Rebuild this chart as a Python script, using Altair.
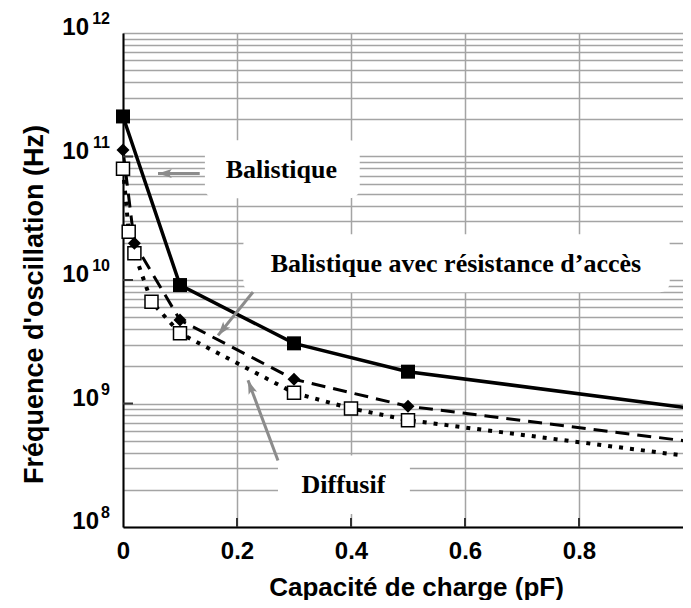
import math
import altair as alt
import pandas as pd

# ---- data ----
cap_bal = [0, 0.1, 0.3, 0.5, 1.0]
f_bal = [2.11e11, 9.1e9, 3.07e9, 1.81e9, 9.1e8]
cap_res = [0, 0.02, 0.1, 0.3, 0.5, 1.0]
f_res = [1.13e11, 1.98e10, 4.74e9, 1.57e9, 9.5e8, 4.89e8]
cap_dif = [0, 0.01, 0.02, 0.05, 0.1, 0.3, 0.4, 0.5, 1.0]
f_dif = [7.94e10, 2.46e10, 1.65e10, 6.67e9, 3.70e9, 1.22e9, 9.12e8, 7.33e8, 3.70e8]

x_ticks = [0, 0.2, 0.4, 0.6, 0.8, 1.0]
x_inner_ticks = [0.2, 0.4, 0.6, 0.8]
y_major = [1e8, 1e9, 1e10, 1e11, 1e12]
y_exp = ["8", "9", "10", "11", "12"]
y_grid = [k * 10 ** e for e in range(8, 12) for k in range(1, 10)] + [1e12]

labels = ["Balistique", "Balistique avec résistance d’accès", "Diffusif"]
label_x = [0.2779, 0.5842, 0.3868]
label_y = [7.75e10, 1.34e10, 2.17e8]
box_x1 = [0.1437, 0.2112, 0.2719]
box_x2 = [0.4153, 0.9591, 0.5033]
box_y1 = [1.357e11, 2.35e10, 3.79e8]
box_y2 = [4.59e10, 7.94e9, 1.277e8]
arrow_x_from = [0.1346, 0.2281, 0.2719]
arrow_y_from = [7.29e10, 7.99e9, 3.45e8]
arrow_x_to = [0.0614, 0.1667, 0.2193]
arrow_y_to = [7.29e10, 3.56e9, 1.54e9]

W, H = 570, 494
SANS = "Liberation Sans"
SERIF = "Liberation Serif"
GRID = "#a4a4a4"
ARROW = "#8c8c8c"

x_scale = alt.Scale(domain=[0, 1], nice=False, zero=False)
y_scale = alt.Scale(type="log", domain=[1e8, 1e12], nice=False)


def angle(x0, y0, x1, y1):
    px0, px1 = x0 * W, x1 * W
    py0 = (12 - math.log10(y0)) / 4 * H
    py1 = (12 - math.log10(y1)) / 4 * H
    return math.degrees(math.atan2(px1 - px0, -(py1 - py0))) % 360


bal = pd.DataFrame({"x": cap_bal, "y": f_bal})
res = pd.DataFrame({"x": cap_res, "y": f_res})
dif = pd.DataFrame({"x": cap_dif, "y": f_dif})
ann = pd.DataFrame({"label": labels, "x": label_x, "y": label_y,
                    "bx1": box_x1, "bx2": box_x2, "by1": box_y1, "by2": box_y2})
arr = pd.DataFrame({"x": arrow_x_from, "y": arrow_y_from,
                    "x2": arrow_x_to, "y2": arrow_y_to})
arr_head = pd.DataFrame({"x": arrow_x_to, "y": arrow_y_to,
                         "ang": [angle(a, b, c, d) for a, b, c, d in
                                 zip(arrow_x_from, arrow_y_from, arrow_x_to, arrow_y_to)]})
xt = pd.DataFrame({"x": x_inner_ticks})
yt = pd.DataFrame({"y": y_major[1:-1]})
ylab = pd.DataFrame({"y": y_major, "exp": y_exp})

X = lambda: alt.X("x:Q", scale=x_scale)
Y = lambda: alt.Y("y:Q", scale=y_scale)

# boxes carry the axes definitions
boxes = alt.Chart(ann).mark_rect(color="white", cornerRadius=10).encode(
    x=alt.X("bx1:Q", scale=x_scale, axis=alt.Axis(
        values=x_ticks, format=".1~f", grid=True, gridColor=GRID, gridWidth=1.5,
        ticks=False, domainColor="black", domainWidth=2,
        labelFont=SANS, labelFontWeight="bold", labelFontSize=24, labelColor="black",
        labelPadding=12, labelFlush=False,
        title="Capacité de charge (pF)", titleFont=SANS, titleFontWeight="bold",
        titleFontSize=26, titleColor="black", titleBaseline="alphabetic",
        titleAlign="center", titleX=293, titleY=68)),
    x2="bx2:Q",
    y=alt.Y("by1:Q", scale=y_scale, axis=alt.Axis(
        values=y_grid, labels=False, ticks=False, grid=True, gridColor=GRID,
        gridWidth=1.5, domainColor="black", domainWidth=2,
        title="Fréquence d'oscillation (Hz)", titleFont=SANS, titleFontWeight="bold",
        titleFontSize=27, titleColor="black", titleAngle=270, titleAlign="center",
        titleBaseline="middle", titleX=-89, titleY=271)),
    y2="by2:Q",
)

line_dif = alt.Chart(dif).mark_line(color="black", strokeWidth=4, strokeDash=[4, 7]).encode(x=X(), y=Y())
line_res = alt.Chart(res).mark_line(color="black", strokeWidth=3, strokeDash=[14, 8]).encode(x=X(), y=Y())
line_bal = alt.Chart(bal).mark_line(color="black", strokeWidth=3.5).encode(x=X(), y=Y())

arrows = alt.Chart(arr).mark_rule(color=ARROW, strokeWidth=3).encode(
    x=X(), y=Y(), x2="x2:Q", y2="y2:Q")
heads = alt.Chart(arr_head).mark_point(
    shape="M0,0L-0.75,2.3L0,1.8L0.75,2.3Z", filled=True, color=ARROW, opacity=1, size=144
).encode(x=X(), y=Y(), angle=alt.Angle("ang:Q", scale=None))

pts_dif = alt.Chart(dif).mark_point(shape="square", filled=True, fill="white", stroke="black",
                                    strokeWidth=1.5, size=169, opacity=1).encode(x=X(), y=Y())
pts_res = alt.Chart(res).mark_point(shape="diamond", filled=True, color="black", size=169,
                                    opacity=1).encode(x=X(), y=Y())
pts_bal = alt.Chart(bal).mark_point(shape="square", filled=True, color="black", size=196,
                                    opacity=1).encode(x=X(), y=Y())

texts = alt.Chart(ann).mark_text(font=SERIF, fontWeight="bold", fontSize=26, color="black",
                                 align="center", baseline="middle").encode(
    x=X(), y=Y(), text="label:N")

xticks_in = alt.Chart(xt).mark_rule(color="#333333", strokeWidth=2).encode(
    x=X(), y=alt.value(H), y2=alt.value(H - 9))
yticks_in = alt.Chart(yt).mark_rule(color="#333333", strokeWidth=2).encode(
    y=Y(), x=alt.value(0), x2=alt.value(10))

ylab_base = alt.Chart(ylab).transform_calculate(
    bx="-14 - 10 * length(datum.exp)"
).mark_text(text="10", font=SANS, fontWeight="bold", fontSize=24, color="black",
            align="right", baseline="alphabetic", dy=2).encode(
    x=alt.X("bx:Q", scale=None), y=Y())
ylab_exp = alt.Chart(ylab).mark_text(font=SANS, fontWeight="bold", fontSize=16, color="black",
                                     align="right", baseline="alphabetic", dy=-9).encode(
    x=alt.value(-13), y=Y(), text="exp:N")

chart = alt.layer(
    boxes, line_dif, line_res, line_bal, arrows, heads,
    pts_dif, pts_res, pts_bal, texts, xticks_in, yticks_in, ylab_base, ylab_exp
).properties(
    width=W, height=H,
    padding={"left": 115, "top": 25, "right": -10, "bottom": 73},
    autosize=alt.AutoSizeParams(type="none"),
).configure_view(stroke="black", strokeWidth=2).configure(background="white")

chart.save("out.html", embed_options={"renderer": "svg", "actions": False})
